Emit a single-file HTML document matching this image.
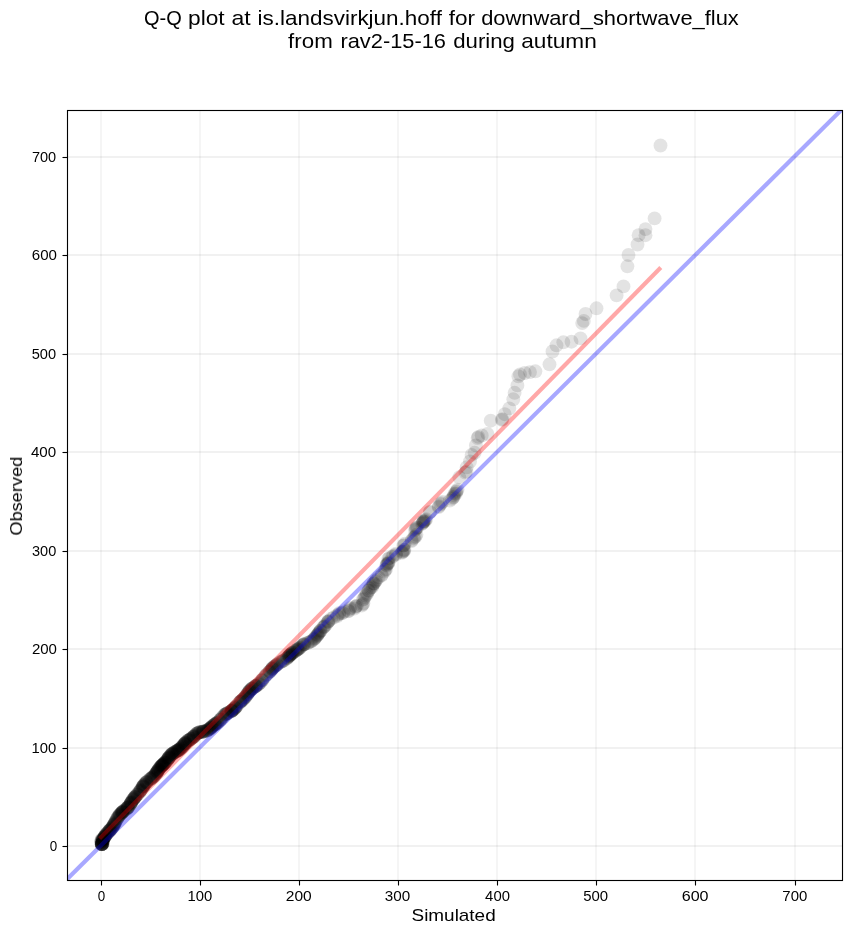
<!DOCTYPE html>
<html><head><meta charset="utf-8"><title>Q-Q plot</title>
<style>
html,body{margin:0;padding:0;background:#fff;}
body{width:851px;height:934px;overflow:hidden;}
svg{display:block;}
text{font-family:"Liberation Sans",sans-serif;fill:#000;}
</style></head><body>
<svg width="851" height="934" viewBox="0 0 851 934">
<rect width="851" height="934" fill="#fff"/>
<defs><clipPath id="ax"><rect x="67.5" y="110.5" width="775.0" height="770.0"/></clipPath></defs>

<g stroke="#000" stroke-width="2" shape-rendering="crispEdges">
<line x1="101" y1="110.5" x2="101" y2="880.5" stroke-opacity="0.04"/>
<line x1="67.5" y1="846" x2="842.5" y2="846" stroke-opacity="0.055"/>
<line x1="200" y1="110.5" x2="200" y2="880.5" stroke-opacity="0.04"/>
<line x1="67.5" y1="748" x2="842.5" y2="748" stroke-opacity="0.055"/>
<line x1="299" y1="110.5" x2="299" y2="880.5" stroke-opacity="0.04"/>
<line x1="67.5" y1="649" x2="842.5" y2="649" stroke-opacity="0.055"/>
<line x1="398" y1="110.5" x2="398" y2="880.5" stroke-opacity="0.04"/>
<line x1="67.5" y1="551" x2="842.5" y2="551" stroke-opacity="0.055"/>
<line x1="497" y1="110.5" x2="497" y2="880.5" stroke-opacity="0.04"/>
<line x1="67.5" y1="452" x2="842.5" y2="452" stroke-opacity="0.055"/>
<line x1="596" y1="110.5" x2="596" y2="880.5" stroke-opacity="0.04"/>
<line x1="67.5" y1="354" x2="842.5" y2="354" stroke-opacity="0.055"/>
<line x1="695" y1="110.5" x2="695" y2="880.5" stroke-opacity="0.04"/>
<line x1="67.5" y1="255" x2="842.5" y2="255" stroke-opacity="0.055"/>
<line x1="795" y1="110.5" x2="795" y2="880.5" stroke-opacity="0.04"/>
<line x1="67.5" y1="157" x2="842.5" y2="157" stroke-opacity="0.055"/>
</g>
<g clip-path="url(#ax)" fill="#000" fill-opacity="0.11">
<circle cx="660.5" cy="145.5" r="6.95"/>
<circle cx="654.6" cy="218.4" r="6.95"/>
<circle cx="645.5" cy="229.1" r="6.95"/>
<circle cx="645.5" cy="235.2" r="6.95"/>
<circle cx="638.6" cy="235.2" r="6.95"/>
<circle cx="637.5" cy="244.5" r="6.95"/>
<circle cx="628.5" cy="255.0" r="6.95"/>
<circle cx="627.4" cy="266.3" r="6.95"/>
<circle cx="623.5" cy="286.4" r="6.95"/>
<circle cx="616.6" cy="295.4" r="6.95"/>
<circle cx="596.5" cy="308.3" r="6.95"/>
<circle cx="585.5" cy="314.0" r="6.95"/>
<circle cx="583.8" cy="320.9" r="6.95"/>
<circle cx="582.2" cy="323.1" r="6.95"/>
<circle cx="580.5" cy="338.4" r="6.95"/>
<circle cx="571.5" cy="341.7" r="6.95"/>
<circle cx="563.3" cy="342.3" r="6.95"/>
<circle cx="556.5" cy="345.3" r="6.95"/>
<circle cx="552.5" cy="351.5" r="6.95"/>
<circle cx="549.5" cy="364.3" r="6.95"/>
<circle cx="535.4" cy="371.3" r="6.95"/>
<circle cx="530.0" cy="372.1" r="6.95"/>
<circle cx="524.7" cy="373.0" r="6.95"/>
<circle cx="520.0" cy="374.5" r="6.95"/>
<circle cx="518.4" cy="376.3" r="6.95"/>
<circle cx="517.4" cy="385.4" r="6.95"/>
<circle cx="514.6" cy="392.8" r="6.95"/>
<circle cx="513.3" cy="399.3" r="6.95"/>
<circle cx="509.3" cy="408.4" r="6.95"/>
<circle cx="504.7" cy="414.2" r="6.95"/>
<circle cx="502.3" cy="419.1" r="6.95"/>
<circle cx="501.9" cy="419.9" r="6.95"/>
<circle cx="490.7" cy="420.7" r="6.95"/>
<circle cx="487.4" cy="433.9" r="6.95"/>
<circle cx="481.7" cy="435.5" r="6.95"/>
<circle cx="478.4" cy="436.9" r="6.95"/>
<circle cx="477.6" cy="438.0" r="6.95"/>
<circle cx="475.9" cy="445.4" r="6.95"/>
<circle cx="474.6" cy="452.8" r="6.95"/>
<circle cx="471.6" cy="454.9" r="6.95"/>
<circle cx="470.0" cy="461.5" r="6.95"/>
<circle cx="466.7" cy="467.3" r="6.95"/>
<circle cx="465.3" cy="472.6" r="6.95"/>
<circle cx="466.4" cy="471.6" r="6.95"/>
<circle cx="459.3" cy="477.3" r="6.95"/>
<circle cx="456.1" cy="492.0" r="6.95"/>
<circle cx="456.8" cy="490.9" r="6.95"/>
<circle cx="457.6" cy="489.6" r="6.95"/>
<circle cx="454.1" cy="495.3" r="6.95"/>
<circle cx="454.6" cy="493.7" r="6.95"/>
<circle cx="455.9" cy="493.5" r="6.95"/>
<circle cx="451.9" cy="498.9" r="6.95"/>
<circle cx="453.1" cy="497.5" r="6.95"/>
<circle cx="453.7" cy="496.8" r="6.95"/>
<circle cx="449.8" cy="500.6" r="6.95"/>
<circle cx="440.5" cy="504.3" r="6.95"/>
<circle cx="441.2" cy="503.1" r="6.95"/>
<circle cx="442.4" cy="501.9" r="6.95"/>
<circle cx="438.7" cy="507.1" r="6.95"/>
<circle cx="438.9" cy="506.2" r="6.95"/>
<circle cx="429.8" cy="512.4" r="6.95"/>
<circle cx="430.2" cy="511.6" r="6.95"/>
<circle cx="423.8" cy="521.6" r="6.95"/>
<circle cx="424.9" cy="521.0" r="6.95"/>
<circle cx="425.1" cy="519.9" r="6.95"/>
<circle cx="426.2" cy="519.2" r="6.95"/>
<circle cx="422.0" cy="523.8" r="6.95"/>
<circle cx="422.9" cy="522.9" r="6.95"/>
<circle cx="422.9" cy="522.8" r="6.95"/>
<circle cx="423.3" cy="521.7" r="6.95"/>
<circle cx="423.7" cy="521.2" r="6.95"/>
<circle cx="415.0" cy="530.1" r="6.95"/>
<circle cx="415.7" cy="529.1" r="6.95"/>
<circle cx="416.1" cy="528.6" r="6.95"/>
<circle cx="416.6" cy="527.7" r="6.95"/>
<circle cx="417.4" cy="527.4" r="6.95"/>
<circle cx="413.8" cy="538.2" r="6.95"/>
<circle cx="414.2" cy="537.2" r="6.95"/>
<circle cx="415.5" cy="536.5" r="6.95"/>
<circle cx="416.5" cy="534.8" r="6.95"/>
<circle cx="411.5" cy="541.2" r="6.95"/>
<circle cx="411.9" cy="540.0" r="6.95"/>
<circle cx="403.3" cy="545.6" r="6.95"/>
<circle cx="404.0" cy="545.3" r="6.95"/>
<circle cx="404.8" cy="543.8" r="6.95"/>
<circle cx="402.0" cy="552.9" r="6.95"/>
<circle cx="402.2" cy="551.8" r="6.95"/>
<circle cx="403.1" cy="551.7" r="6.95"/>
<circle cx="403.9" cy="551.1" r="6.95"/>
<circle cx="403.8" cy="550.0" r="6.95"/>
<circle cx="404.4" cy="549.9" r="6.95"/>
<circle cx="396.0" cy="554.6" r="6.95"/>
<circle cx="396.0" cy="553.7" r="6.95"/>
<circle cx="392.1" cy="557.0" r="6.95"/>
<circle cx="393.3" cy="555.8" r="6.95"/>
<circle cx="388.3" cy="558.9" r="6.95"/>
<circle cx="389.5" cy="558.1" r="6.95"/>
<circle cx="386.6" cy="565.5" r="6.95"/>
<circle cx="386.6" cy="564.8" r="6.95"/>
<circle cx="387.2" cy="563.7" r="6.95"/>
<circle cx="387.9" cy="563.8" r="6.95"/>
<circle cx="388.4" cy="563.2" r="6.95"/>
<circle cx="388.4" cy="562.2" r="6.95"/>
<circle cx="384.4" cy="571.6" r="6.95"/>
<circle cx="385.2" cy="570.1" r="6.95"/>
<circle cx="386.1" cy="569.2" r="6.95"/>
<circle cx="381.5" cy="575.5" r="6.95"/>
<circle cx="381.9" cy="574.7" r="6.95"/>
<circle cx="378.6" cy="577.4" r="6.95"/>
<circle cx="373.8" cy="583.4" r="6.95"/>
<circle cx="375.2" cy="581.6" r="6.95"/>
<circle cx="375.7" cy="580.8" r="6.95"/>
<circle cx="376.6" cy="579.6" r="6.95"/>
<circle cx="372.1" cy="587.0" r="6.95"/>
<circle cx="372.6" cy="585.5" r="6.95"/>
<circle cx="373.0" cy="584.1" r="6.95"/>
<circle cx="374.0" cy="583.3" r="6.95"/>
<circle cx="368.6" cy="590.7" r="6.95"/>
<circle cx="368.6" cy="590.5" r="6.95"/>
<circle cx="369.9" cy="588.6" r="6.95"/>
<circle cx="370.7" cy="587.5" r="6.95"/>
<circle cx="365.7" cy="595.5" r="6.95"/>
<circle cx="366.9" cy="594.2" r="6.95"/>
<circle cx="367.0" cy="592.9" r="6.95"/>
<circle cx="362.9" cy="599.7" r="6.95"/>
<circle cx="364.0" cy="598.8" r="6.95"/>
<circle cx="364.6" cy="597.2" r="6.95"/>
<circle cx="361.8" cy="605.5" r="6.95"/>
<circle cx="362.7" cy="604.3" r="6.95"/>
<circle cx="363.4" cy="603.3" r="6.95"/>
<circle cx="354.5" cy="608.5" r="6.95"/>
<circle cx="355.5" cy="607.0" r="6.95"/>
<circle cx="355.9" cy="606.3" r="6.95"/>
<circle cx="357.0" cy="605.7" r="6.95"/>
<circle cx="348.3" cy="611.2" r="6.95"/>
<circle cx="349.0" cy="610.8" r="6.95"/>
<circle cx="349.9" cy="609.2" r="6.95"/>
<circle cx="349.9" cy="608.0" r="6.95"/>
<circle cx="341.9" cy="613.2" r="6.95"/>
<circle cx="343.1" cy="612.9" r="6.95"/>
<circle cx="344.1" cy="611.5" r="6.95"/>
<circle cx="337.0" cy="616.3" r="6.95"/>
<circle cx="337.2" cy="615.2" r="6.95"/>
<circle cx="338.8" cy="614.3" r="6.95"/>
<circle cx="339.5" cy="613.0" r="6.95"/>
<circle cx="333.6" cy="617.5" r="6.95"/>
<circle cx="331.1" cy="618.8" r="6.95"/>
<circle cx="329.0" cy="620.6" r="6.95"/>
<circle cx="328.3" cy="621.4" r="6.95"/>
<circle cx="328.0" cy="621.8" r="6.95"/>
<circle cx="327.8" cy="622.1" r="6.95"/>
<circle cx="326.0" cy="624.5" r="6.95"/>
<circle cx="324.9" cy="625.9" r="6.95"/>
<circle cx="324.0" cy="626.8" r="6.95"/>
<circle cx="323.9" cy="626.8" r="6.95"/>
<circle cx="322.9" cy="627.7" r="6.95"/>
<circle cx="320.8" cy="630.4" r="6.95"/>
<circle cx="320.5" cy="630.8" r="6.95"/>
<circle cx="320.1" cy="631.3" r="6.95"/>
<circle cx="319.3" cy="632.3" r="6.95"/>
<circle cx="318.8" cy="633.0" r="6.95"/>
<circle cx="318.2" cy="633.8" r="6.95"/>
<circle cx="317.6" cy="634.8" r="6.95"/>
<circle cx="317.5" cy="634.9" r="6.95"/>
<circle cx="316.9" cy="635.8" r="6.95"/>
<circle cx="316.1" cy="636.6" r="6.95"/>
<circle cx="315.4" cy="637.5" r="6.95"/>
<circle cx="314.7" cy="638.4" r="6.95"/>
<circle cx="314.2" cy="638.9" r="6.95"/>
<circle cx="313.5" cy="639.7" r="6.95"/>
<circle cx="311.9" cy="640.9" r="6.95"/>
<circle cx="311.0" cy="641.4" r="6.95"/>
<circle cx="310.1" cy="641.9" r="6.95"/>
<circle cx="308.5" cy="642.5" r="6.95"/>
<circle cx="307.4" cy="643.0" r="6.95"/>
<circle cx="304.7" cy="644.0" r="6.95"/>
<circle cx="304.1" cy="644.3" r="6.95"/>
<circle cx="303.9" cy="644.4" r="6.95"/>
<circle cx="303.1" cy="644.8" r="6.95"/>
<circle cx="302.7" cy="645.1" r="6.95"/>
<circle cx="301.5" cy="646.1" r="6.95"/>
<circle cx="300.2" cy="647.4" r="6.95"/>
<circle cx="299.9" cy="647.7" r="6.95"/>
<circle cx="299.2" cy="648.3" r="6.95"/>
<circle cx="298.5" cy="648.8" r="6.95"/>
<circle cx="297.9" cy="649.2" r="6.95"/>
<circle cx="297.4" cy="649.5" r="6.95"/>
<circle cx="297.4" cy="649.5" r="6.95"/>
<circle cx="296.7" cy="650.1" r="6.95"/>
<circle cx="296.1" cy="650.5" r="6.95"/>
<circle cx="295.2" cy="651.1" r="6.95"/>
<circle cx="294.8" cy="651.4" r="6.95"/>
<circle cx="293.1" cy="652.5" r="6.95"/>
<circle cx="292.8" cy="652.7" r="6.95"/>
<circle cx="292.4" cy="653.0" r="6.95"/>
<circle cx="292.3" cy="653.0" r="6.95"/>
<circle cx="291.6" cy="653.6" r="6.95"/>
<circle cx="291.1" cy="654.0" r="6.95"/>
<circle cx="290.8" cy="654.2" r="6.95"/>
<circle cx="290.5" cy="654.6" r="6.95"/>
<circle cx="290.2" cy="654.8" r="6.95"/>
<circle cx="289.7" cy="655.3" r="6.95"/>
<circle cx="289.4" cy="655.6" r="6.95"/>
<circle cx="289.1" cy="655.9" r="6.95"/>
<circle cx="289.1" cy="656.0" r="6.95"/>
<circle cx="289.0" cy="656.1" r="6.95"/>
<circle cx="288.3" cy="656.8" r="6.95"/>
<circle cx="287.6" cy="657.6" r="6.95"/>
<circle cx="287.4" cy="657.7" r="6.95"/>
<circle cx="286.9" cy="658.3" r="6.95"/>
<circle cx="286.1" cy="658.9" r="6.95"/>
<circle cx="284.2" cy="660.3" r="6.95"/>
<circle cx="283.0" cy="660.9" r="6.95"/>
<circle cx="282.4" cy="661.2" r="6.95"/>
<circle cx="282.2" cy="661.3" r="6.95"/>
<circle cx="280.6" cy="662.1" r="6.95"/>
<circle cx="280.2" cy="662.3" r="6.95"/>
<circle cx="278.1" cy="663.6" r="6.95"/>
<circle cx="277.1" cy="664.4" r="6.95"/>
<circle cx="276.7" cy="664.8" r="6.95"/>
<circle cx="276.4" cy="665.1" r="6.95"/>
<circle cx="275.7" cy="665.6" r="6.95"/>
<circle cx="274.9" cy="666.2" r="6.95"/>
<circle cx="274.4" cy="666.6" r="6.95"/>
<circle cx="273.7" cy="667.2" r="6.95"/>
<circle cx="272.8" cy="667.8" r="6.95"/>
<circle cx="272.5" cy="668.2" r="6.95"/>
<circle cx="272.1" cy="668.8" r="6.95"/>
<circle cx="272.1" cy="668.8" r="6.95"/>
<circle cx="271.8" cy="669.2" r="6.95"/>
<circle cx="271.2" cy="670.0" r="6.95"/>
<circle cx="270.3" cy="671.0" r="6.95"/>
<circle cx="269.9" cy="671.4" r="6.95"/>
<circle cx="269.7" cy="671.6" r="6.95"/>
<circle cx="268.8" cy="672.5" r="6.95"/>
<circle cx="267.1" cy="674.1" r="6.95"/>
<circle cx="266.3" cy="674.9" r="6.95"/>
<circle cx="265.6" cy="675.6" r="6.95"/>
<circle cx="264.3" cy="677.3" r="6.95"/>
<circle cx="262.9" cy="679.1" r="6.95"/>
<circle cx="262.1" cy="680.2" r="6.95"/>
<circle cx="262.1" cy="680.3" r="6.95"/>
<circle cx="261.7" cy="680.8" r="6.95"/>
<circle cx="260.3" cy="682.5" r="6.95"/>
<circle cx="259.5" cy="683.3" r="6.95"/>
<circle cx="258.5" cy="684.2" r="6.95"/>
<circle cx="258.5" cy="684.2" r="6.95"/>
<circle cx="257.1" cy="685.2" r="6.95"/>
<circle cx="256.4" cy="685.7" r="6.95"/>
<circle cx="256.2" cy="685.8" r="6.95"/>
<circle cx="255.8" cy="686.0" r="6.95"/>
<circle cx="255.4" cy="686.3" r="6.95"/>
<circle cx="255.1" cy="686.5" r="6.95"/>
<circle cx="254.5" cy="686.9" r="6.95"/>
<circle cx="253.4" cy="687.6" r="6.95"/>
<circle cx="252.5" cy="688.2" r="6.95"/>
<circle cx="252.3" cy="688.4" r="6.95"/>
<circle cx="251.9" cy="688.7" r="6.95"/>
<circle cx="251.5" cy="689.0" r="6.95"/>
<circle cx="251.3" cy="689.2" r="6.95"/>
<circle cx="250.3" cy="690.2" r="6.95"/>
<circle cx="249.9" cy="690.5" r="6.95"/>
<circle cx="249.4" cy="691.1" r="6.95"/>
<circle cx="249.3" cy="691.3" r="6.95"/>
<circle cx="249.1" cy="691.6" r="6.95"/>
<circle cx="248.6" cy="692.2" r="6.95"/>
<circle cx="248.4" cy="692.6" r="6.95"/>
<circle cx="247.8" cy="693.4" r="6.95"/>
<circle cx="247.3" cy="694.2" r="6.95"/>
<circle cx="247.2" cy="694.4" r="6.95"/>
<circle cx="246.7" cy="695.1" r="6.95"/>
<circle cx="246.0" cy="696.1" r="6.95"/>
<circle cx="245.4" cy="696.8" r="6.95"/>
<circle cx="245.1" cy="697.2" r="6.95"/>
<circle cx="244.8" cy="697.6" r="6.95"/>
<circle cx="243.7" cy="698.7" r="6.95"/>
<circle cx="243.6" cy="698.9" r="6.95"/>
<circle cx="242.5" cy="699.8" r="6.95"/>
<circle cx="242.3" cy="700.0" r="6.95"/>
<circle cx="241.8" cy="700.5" r="6.95"/>
<circle cx="241.0" cy="701.1" r="6.95"/>
<circle cx="240.6" cy="701.6" r="6.95"/>
<circle cx="240.5" cy="701.6" r="6.95"/>
<circle cx="240.1" cy="702.0" r="6.95"/>
<circle cx="240.0" cy="702.2" r="6.95"/>
<circle cx="238.7" cy="703.5" r="6.95"/>
<circle cx="236.7" cy="705.9" r="6.95"/>
<circle cx="236.2" cy="706.5" r="6.95"/>
<circle cx="236.1" cy="706.6" r="6.95"/>
<circle cx="235.7" cy="707.1" r="6.95"/>
<circle cx="235.0" cy="707.9" r="6.95"/>
<circle cx="235.0" cy="708.0" r="6.95"/>
<circle cx="234.8" cy="708.2" r="6.95"/>
<circle cx="234.4" cy="708.7" r="6.95"/>
<circle cx="233.4" cy="709.5" r="6.95"/>
<circle cx="233.1" cy="709.8" r="6.95"/>
<circle cx="232.8" cy="710.1" r="6.95"/>
<circle cx="232.3" cy="710.4" r="6.95"/>
<circle cx="232.0" cy="710.6" r="6.95"/>
<circle cx="231.7" cy="710.8" r="6.95"/>
<circle cx="231.5" cy="710.9" r="6.95"/>
<circle cx="231.4" cy="711.0" r="6.95"/>
<circle cx="231.2" cy="711.1" r="6.95"/>
<circle cx="230.9" cy="711.3" r="6.95"/>
<circle cx="228.7" cy="712.5" r="6.95"/>
<circle cx="228.1" cy="712.8" r="6.95"/>
<circle cx="227.4" cy="713.1" r="6.95"/>
<circle cx="226.9" cy="713.4" r="6.95"/>
<circle cx="226.6" cy="713.6" r="6.95"/>
<circle cx="226.4" cy="713.7" r="6.95"/>
<circle cx="225.5" cy="714.2" r="6.95"/>
<circle cx="225.3" cy="714.4" r="6.95"/>
<circle cx="225.0" cy="714.6" r="6.95"/>
<circle cx="224.5" cy="715.0" r="6.95"/>
<circle cx="223.2" cy="716.3" r="6.95"/>
<circle cx="222.4" cy="717.3" r="6.95"/>
<circle cx="222.0" cy="717.8" r="6.95"/>
<circle cx="220.8" cy="719.2" r="6.95"/>
<circle cx="220.6" cy="719.5" r="6.95"/>
<circle cx="220.4" cy="719.7" r="6.95"/>
<circle cx="219.7" cy="720.5" r="6.95"/>
<circle cx="218.8" cy="721.4" r="6.95"/>
<circle cx="217.9" cy="722.2" r="6.95"/>
<circle cx="217.3" cy="722.7" r="6.95"/>
<circle cx="217.0" cy="722.9" r="6.95"/>
<circle cx="216.7" cy="723.1" r="6.95"/>
<circle cx="215.8" cy="723.8" r="6.95"/>
<circle cx="215.7" cy="723.8" r="6.95"/>
<circle cx="215.0" cy="724.3" r="6.95"/>
<circle cx="214.7" cy="724.5" r="6.95"/>
<circle cx="214.7" cy="724.5" r="6.95"/>
<circle cx="214.2" cy="724.8" r="6.95"/>
<circle cx="213.5" cy="725.4" r="6.95"/>
<circle cx="213.0" cy="725.8" r="6.95"/>
<circle cx="212.8" cy="725.9" r="6.95"/>
<circle cx="212.0" cy="726.7" r="6.95"/>
<circle cx="212.0" cy="726.7" r="6.95"/>
<circle cx="211.3" cy="727.4" r="6.95"/>
<circle cx="211.0" cy="727.7" r="6.95"/>
<circle cx="211.0" cy="727.7" r="6.95"/>
<circle cx="210.6" cy="728.0" r="6.95"/>
<circle cx="210.3" cy="728.2" r="6.95"/>
<circle cx="209.4" cy="728.9" r="6.95"/>
<circle cx="209.2" cy="729.1" r="6.95"/>
<circle cx="208.9" cy="729.3" r="6.95"/>
<circle cx="208.7" cy="729.5" r="6.95"/>
<circle cx="207.6" cy="730.2" r="6.95"/>
<circle cx="207.4" cy="730.3" r="6.95"/>
<circle cx="207.0" cy="730.5" r="6.95"/>
<circle cx="206.5" cy="730.8" r="6.95"/>
<circle cx="206.1" cy="730.9" r="6.95"/>
<circle cx="204.2" cy="731.4" r="6.95"/>
<circle cx="203.7" cy="731.5" r="6.95"/>
<circle cx="203.7" cy="731.5" r="6.95"/>
<circle cx="203.2" cy="731.6" r="6.95"/>
<circle cx="202.8" cy="731.7" r="6.95"/>
<circle cx="202.4" cy="731.7" r="6.95"/>
<circle cx="202.1" cy="731.8" r="6.95"/>
<circle cx="201.8" cy="731.8" r="6.95"/>
<circle cx="200.3" cy="732.1" r="6.95"/>
<circle cx="199.8" cy="732.2" r="6.95"/>
<circle cx="199.3" cy="732.3" r="6.95"/>
<circle cx="198.8" cy="732.5" r="6.95"/>
<circle cx="198.8" cy="732.5" r="6.95"/>
<circle cx="197.6" cy="733.1" r="6.95"/>
<circle cx="197.5" cy="733.1" r="6.95"/>
<circle cx="197.0" cy="733.4" r="6.95"/>
<circle cx="196.7" cy="733.6" r="6.95"/>
<circle cx="196.2" cy="734.1" r="6.95"/>
<circle cx="195.5" cy="734.9" r="6.95"/>
<circle cx="194.7" cy="735.7" r="6.95"/>
<circle cx="194.1" cy="736.2" r="6.95"/>
<circle cx="194.1" cy="736.2" r="6.95"/>
<circle cx="193.7" cy="736.7" r="6.95"/>
<circle cx="193.5" cy="736.8" r="6.95"/>
<circle cx="193.0" cy="737.3" r="6.95"/>
<circle cx="192.8" cy="737.4" r="6.95"/>
<circle cx="192.0" cy="738.1" r="6.95"/>
<circle cx="191.1" cy="738.7" r="6.95"/>
<circle cx="190.8" cy="738.9" r="6.95"/>
<circle cx="190.5" cy="739.1" r="6.95"/>
<circle cx="190.4" cy="739.2" r="6.95"/>
<circle cx="189.4" cy="739.8" r="6.95"/>
<circle cx="188.9" cy="740.1" r="6.95"/>
<circle cx="188.8" cy="740.2" r="6.95"/>
<circle cx="188.2" cy="740.5" r="6.95"/>
<circle cx="187.9" cy="740.7" r="6.95"/>
<circle cx="187.5" cy="741.0" r="6.95"/>
<circle cx="186.9" cy="741.6" r="6.95"/>
<circle cx="185.8" cy="742.6" r="6.95"/>
<circle cx="185.7" cy="742.7" r="6.95"/>
<circle cx="185.4" cy="743.0" r="6.95"/>
<circle cx="185.2" cy="743.3" r="6.95"/>
<circle cx="185.0" cy="743.5" r="6.95"/>
<circle cx="184.8" cy="743.7" r="6.95"/>
<circle cx="184.6" cy="743.9" r="6.95"/>
<circle cx="184.3" cy="744.2" r="6.95"/>
<circle cx="183.8" cy="744.8" r="6.95"/>
<circle cx="183.8" cy="744.9" r="6.95"/>
<circle cx="182.9" cy="746.0" r="6.95"/>
<circle cx="182.7" cy="746.2" r="6.95"/>
<circle cx="182.5" cy="746.4" r="6.95"/>
<circle cx="182.0" cy="747.0" r="6.95"/>
<circle cx="181.8" cy="747.3" r="6.95"/>
<circle cx="181.4" cy="747.6" r="6.95"/>
<circle cx="180.7" cy="748.3" r="6.95"/>
<circle cx="180.6" cy="748.4" r="6.95"/>
<circle cx="180.0" cy="748.9" r="6.95"/>
<circle cx="179.6" cy="749.2" r="6.95"/>
<circle cx="179.4" cy="749.4" r="6.95"/>
<circle cx="178.9" cy="749.8" r="6.95"/>
<circle cx="178.6" cy="750.0" r="6.95"/>
<circle cx="178.4" cy="750.1" r="6.95"/>
<circle cx="178.2" cy="750.3" r="6.95"/>
<circle cx="177.6" cy="750.6" r="6.95"/>
<circle cx="177.5" cy="750.7" r="6.95"/>
<circle cx="177.0" cy="751.0" r="6.95"/>
<circle cx="176.8" cy="751.0" r="6.95"/>
<circle cx="175.9" cy="751.5" r="6.95"/>
<circle cx="175.7" cy="751.7" r="6.95"/>
<circle cx="175.1" cy="752.0" r="6.95"/>
<circle cx="174.7" cy="752.2" r="6.95"/>
<circle cx="174.5" cy="752.4" r="6.95"/>
<circle cx="173.9" cy="752.7" r="6.95"/>
<circle cx="173.3" cy="753.1" r="6.95"/>
<circle cx="172.9" cy="753.4" r="6.95"/>
<circle cx="172.5" cy="753.6" r="6.95"/>
<circle cx="172.2" cy="754.0" r="6.95"/>
<circle cx="172.0" cy="754.1" r="6.95"/>
<circle cx="171.9" cy="754.2" r="6.95"/>
<circle cx="171.6" cy="754.4" r="6.95"/>
<circle cx="171.0" cy="755.0" r="6.95"/>
<circle cx="170.9" cy="755.1" r="6.95"/>
<circle cx="170.7" cy="755.3" r="6.95"/>
<circle cx="169.7" cy="756.5" r="6.95"/>
<circle cx="169.6" cy="756.6" r="6.95"/>
<circle cx="169.3" cy="757.0" r="6.95"/>
<circle cx="169.1" cy="757.3" r="6.95"/>
<circle cx="168.9" cy="757.6" r="6.95"/>
<circle cx="168.5" cy="758.1" r="6.95"/>
<circle cx="168.4" cy="758.2" r="6.95"/>
<circle cx="168.4" cy="758.3" r="6.95"/>
<circle cx="168.0" cy="758.8" r="6.95"/>
<circle cx="167.8" cy="759.2" r="6.95"/>
<circle cx="167.4" cy="759.7" r="6.95"/>
<circle cx="166.9" cy="760.4" r="6.95"/>
<circle cx="166.7" cy="760.7" r="6.95"/>
<circle cx="166.2" cy="761.3" r="6.95"/>
<circle cx="165.9" cy="761.6" r="6.95"/>
<circle cx="165.2" cy="762.4" r="6.95"/>
<circle cx="165.0" cy="762.6" r="6.95"/>
<circle cx="164.9" cy="762.7" r="6.95"/>
<circle cx="164.6" cy="763.0" r="6.95"/>
<circle cx="164.2" cy="763.4" r="6.95"/>
<circle cx="164.2" cy="763.4" r="6.95"/>
<circle cx="164.1" cy="763.5" r="6.95"/>
<circle cx="163.3" cy="764.3" r="6.95"/>
<circle cx="163.2" cy="764.3" r="6.95"/>
<circle cx="162.9" cy="764.7" r="6.95"/>
<circle cx="162.8" cy="764.8" r="6.95"/>
<circle cx="162.6" cy="764.9" r="6.95"/>
<circle cx="162.3" cy="765.2" r="6.95"/>
<circle cx="162.2" cy="765.4" r="6.95"/>
<circle cx="162.0" cy="765.6" r="6.95"/>
<circle cx="161.8" cy="765.7" r="6.95"/>
<circle cx="161.6" cy="765.9" r="6.95"/>
<circle cx="161.3" cy="766.2" r="6.95"/>
<circle cx="161.2" cy="766.3" r="6.95"/>
<circle cx="160.7" cy="766.8" r="6.95"/>
<circle cx="160.5" cy="767.1" r="6.95"/>
<circle cx="160.1" cy="767.5" r="6.95"/>
<circle cx="159.8" cy="767.8" r="6.95"/>
<circle cx="159.6" cy="768.1" r="6.95"/>
<circle cx="159.2" cy="768.6" r="6.95"/>
<circle cx="158.6" cy="769.6" r="6.95"/>
<circle cx="158.4" cy="769.8" r="6.95"/>
<circle cx="158.4" cy="769.9" r="6.95"/>
<circle cx="158.2" cy="770.1" r="6.95"/>
<circle cx="157.7" cy="770.8" r="6.95"/>
<circle cx="157.7" cy="771.0" r="6.95"/>
<circle cx="157.4" cy="771.4" r="6.95"/>
<circle cx="157.3" cy="771.6" r="6.95"/>
<circle cx="157.1" cy="771.9" r="6.95"/>
<circle cx="156.8" cy="772.4" r="6.95"/>
<circle cx="156.5" cy="772.9" r="6.95"/>
<circle cx="156.3" cy="773.1" r="6.95"/>
<circle cx="156.0" cy="773.5" r="6.95"/>
<circle cx="155.9" cy="773.7" r="6.95"/>
<circle cx="155.5" cy="774.4" r="6.95"/>
<circle cx="154.8" cy="775.2" r="6.95"/>
<circle cx="154.3" cy="775.8" r="6.95"/>
<circle cx="153.9" cy="776.2" r="6.95"/>
<circle cx="153.6" cy="776.4" r="6.95"/>
<circle cx="152.9" cy="777.1" r="6.95"/>
<circle cx="152.4" cy="777.5" r="6.95"/>
<circle cx="152.2" cy="777.7" r="6.95"/>
<circle cx="151.7" cy="778.0" r="6.95"/>
<circle cx="151.5" cy="778.2" r="6.95"/>
<circle cx="150.9" cy="778.6" r="6.95"/>
<circle cx="150.3" cy="779.1" r="6.95"/>
<circle cx="150.1" cy="779.2" r="6.95"/>
<circle cx="149.9" cy="779.4" r="6.95"/>
<circle cx="148.3" cy="780.6" r="6.95"/>
<circle cx="147.1" cy="781.6" r="6.95"/>
<circle cx="146.8" cy="781.9" r="6.95"/>
<circle cx="146.4" cy="782.3" r="6.95"/>
<circle cx="146.3" cy="782.4" r="6.95"/>
<circle cx="146.2" cy="782.4" r="6.95"/>
<circle cx="145.5" cy="783.2" r="6.95"/>
<circle cx="144.5" cy="784.3" r="6.95"/>
<circle cx="144.4" cy="784.5" r="6.95"/>
<circle cx="144.1" cy="784.9" r="6.95"/>
<circle cx="143.7" cy="785.4" r="6.95"/>
<circle cx="143.3" cy="786.1" r="6.95"/>
<circle cx="143.1" cy="786.3" r="6.95"/>
<circle cx="143.1" cy="786.4" r="6.95"/>
<circle cx="142.9" cy="786.6" r="6.95"/>
<circle cx="142.7" cy="786.9" r="6.95"/>
<circle cx="142.5" cy="787.2" r="6.95"/>
<circle cx="142.1" cy="788.0" r="6.95"/>
<circle cx="141.3" cy="789.2" r="6.95"/>
<circle cx="140.8" cy="790.0" r="6.95"/>
<circle cx="140.6" cy="790.3" r="6.95"/>
<circle cx="140.1" cy="791.0" r="6.95"/>
<circle cx="140.1" cy="791.0" r="6.95"/>
<circle cx="139.7" cy="791.6" r="6.95"/>
<circle cx="139.3" cy="792.2" r="6.95"/>
<circle cx="138.5" cy="793.2" r="6.95"/>
<circle cx="137.4" cy="794.4" r="6.95"/>
<circle cx="137.2" cy="794.6" r="6.95"/>
<circle cx="137.1" cy="794.7" r="6.95"/>
<circle cx="136.3" cy="795.6" r="6.95"/>
<circle cx="135.4" cy="796.6" r="6.95"/>
<circle cx="135.1" cy="796.9" r="6.95"/>
<circle cx="135.0" cy="797.0" r="6.95"/>
<circle cx="134.9" cy="797.2" r="6.95"/>
<circle cx="134.6" cy="797.6" r="6.95"/>
<circle cx="134.4" cy="797.8" r="6.95"/>
<circle cx="133.8" cy="798.6" r="6.95"/>
<circle cx="133.5" cy="798.9" r="6.95"/>
<circle cx="133.3" cy="799.3" r="6.95"/>
<circle cx="132.8" cy="799.9" r="6.95"/>
<circle cx="132.6" cy="800.2" r="6.95"/>
<circle cx="132.0" cy="801.2" r="6.95"/>
<circle cx="131.5" cy="802.1" r="6.95"/>
<circle cx="131.3" cy="802.3" r="6.95"/>
<circle cx="131.3" cy="802.4" r="6.95"/>
<circle cx="131.1" cy="802.6" r="6.95"/>
<circle cx="130.9" cy="803.0" r="6.95"/>
<circle cx="130.6" cy="803.6" r="6.95"/>
<circle cx="130.4" cy="803.8" r="6.95"/>
<circle cx="130.2" cy="804.3" r="6.95"/>
<circle cx="129.8" cy="804.9" r="6.95"/>
<circle cx="129.1" cy="805.9" r="6.95"/>
<circle cx="128.5" cy="806.8" r="6.95"/>
<circle cx="128.2" cy="807.1" r="6.95"/>
<circle cx="127.9" cy="807.5" r="6.95"/>
<circle cx="127.8" cy="807.5" r="6.95"/>
<circle cx="127.8" cy="807.5" r="6.95"/>
<circle cx="127.6" cy="807.8" r="6.95"/>
<circle cx="127.2" cy="808.2" r="6.95"/>
<circle cx="126.9" cy="808.5" r="6.95"/>
<circle cx="126.1" cy="809.2" r="6.95"/>
<circle cx="125.5" cy="809.7" r="6.95"/>
<circle cx="125.2" cy="809.9" r="6.95"/>
<circle cx="124.0" cy="810.7" r="6.95"/>
<circle cx="123.6" cy="811.0" r="6.95"/>
<circle cx="123.1" cy="811.4" r="6.95"/>
<circle cx="122.8" cy="811.7" r="6.95"/>
<circle cx="122.6" cy="811.9" r="6.95"/>
<circle cx="122.4" cy="812.1" r="6.95"/>
<circle cx="122.2" cy="812.3" r="6.95"/>
<circle cx="121.9" cy="812.5" r="6.95"/>
<circle cx="121.9" cy="812.6" r="6.95"/>
<circle cx="121.7" cy="812.8" r="6.95"/>
<circle cx="121.4" cy="813.1" r="6.95"/>
<circle cx="120.6" cy="813.9" r="6.95"/>
<circle cx="120.3" cy="814.3" r="6.95"/>
<circle cx="119.8" cy="814.7" r="6.95"/>
<circle cx="119.7" cy="814.9" r="6.95"/>
<circle cx="119.6" cy="815.0" r="6.95"/>
<circle cx="119.0" cy="815.8" r="6.95"/>
<circle cx="118.7" cy="816.2" r="6.95"/>
<circle cx="118.4" cy="816.6" r="6.95"/>
<circle cx="118.0" cy="817.2" r="6.95"/>
<circle cx="117.5" cy="818.0" r="6.95"/>
<circle cx="117.3" cy="818.3" r="6.95"/>
<circle cx="116.9" cy="819.1" r="6.95"/>
<circle cx="116.8" cy="819.3" r="6.95"/>
<circle cx="116.0" cy="820.8" r="6.95"/>
<circle cx="115.6" cy="821.5" r="6.95"/>
<circle cx="115.2" cy="822.2" r="6.95"/>
<circle cx="115.1" cy="822.6" r="6.95"/>
<circle cx="114.8" cy="823.1" r="6.95"/>
<circle cx="114.5" cy="823.6" r="6.95"/>
<circle cx="114.2" cy="824.3" r="6.95"/>
<circle cx="114.1" cy="824.5" r="6.95"/>
<circle cx="113.8" cy="824.9" r="6.95"/>
<circle cx="113.6" cy="825.3" r="6.95"/>
<circle cx="113.3" cy="825.8" r="6.95"/>
<circle cx="113.1" cy="826.1" r="6.95"/>
<circle cx="112.8" cy="826.6" r="6.95"/>
<circle cx="112.3" cy="827.4" r="6.95"/>
<circle cx="112.0" cy="827.8" r="6.95"/>
<circle cx="111.7" cy="828.2" r="6.95"/>
<circle cx="111.2" cy="828.8" r="6.95"/>
<circle cx="110.8" cy="829.3" r="6.95"/>
<circle cx="110.5" cy="829.5" r="6.95"/>
<circle cx="110.0" cy="830.1" r="6.95"/>
<circle cx="110.0" cy="830.1" r="6.95"/>
<circle cx="109.7" cy="830.4" r="6.95"/>
<circle cx="109.5" cy="830.7" r="6.95"/>
<circle cx="109.0" cy="831.1" r="6.95"/>
<circle cx="108.9" cy="831.3" r="6.95"/>
<circle cx="108.4" cy="831.9" r="6.95"/>
<circle cx="108.0" cy="832.3" r="6.95"/>
<circle cx="107.4" cy="832.9" r="6.95"/>
<circle cx="107.3" cy="833.1" r="6.95"/>
<circle cx="106.8" cy="833.7" r="6.95"/>
<circle cx="106.4" cy="834.2" r="6.95"/>
<circle cx="106.2" cy="834.5" r="6.95"/>
<circle cx="105.8" cy="835.0" r="6.95"/>
<circle cx="105.3" cy="835.7" r="6.95"/>
<circle cx="105.1" cy="836.0" r="6.95"/>
<circle cx="105.1" cy="836.1" r="6.95"/>
<circle cx="104.9" cy="836.4" r="6.95"/>
<circle cx="104.8" cy="836.5" r="6.95"/>
<circle cx="104.7" cy="836.7" r="6.95"/>
<circle cx="104.2" cy="837.4" r="6.95"/>
<circle cx="104.2" cy="837.5" r="6.95"/>
<circle cx="104.0" cy="837.8" r="6.95"/>
<circle cx="103.7" cy="838.3" r="6.95"/>
<circle cx="103.5" cy="838.6" r="6.95"/>
<circle cx="103.0" cy="839.3" r="6.95"/>
<circle cx="102.8" cy="839.4" r="6.95"/>
<circle cx="102.8" cy="839.7" r="6.95"/>
<circle cx="102.8" cy="839.8" r="6.95"/>
<circle cx="102.8" cy="840.6" r="6.95"/>
<circle cx="102.8" cy="840.7" r="6.95"/>
<circle cx="102.8" cy="841.5" r="6.95"/>
<circle cx="102.9" cy="842.6" r="6.95"/>
<circle cx="103.0" cy="843.2" r="6.95"/>
<circle cx="101.7" cy="844.2" r="6.95"/>
<circle cx="101.7" cy="844.2" r="6.95"/>
<circle cx="101.8" cy="844.2" r="6.95"/>
<circle cx="101.8" cy="844.1" r="6.95"/>
<circle cx="101.8" cy="844.1" r="6.95"/>
<circle cx="101.9" cy="844.1" r="6.95"/>
<circle cx="101.9" cy="844.1" r="6.95"/>
<circle cx="101.9" cy="844.1" r="6.95"/>
<circle cx="101.9" cy="844.0" r="6.95"/>
<circle cx="102.0" cy="844.0" r="6.95"/>
<circle cx="102.0" cy="844.0" r="6.95"/>
<circle cx="102.0" cy="844.0" r="6.95"/>
<circle cx="102.1" cy="844.0" r="6.95"/>
<circle cx="102.1" cy="843.9" r="6.95"/>
<circle cx="101.5" cy="843.2" r="6.95"/>
<circle cx="101.5" cy="842.7" r="6.95"/>
<circle cx="101.5" cy="842.2" r="6.95"/>
<circle cx="101.5" cy="841.7" r="6.95"/>
<circle cx="101.5" cy="841.2" r="6.95"/>
<circle cx="101.5" cy="840.7" r="6.95"/>
<circle cx="101.5" cy="840.2" r="6.95"/>
<circle cx="101.5" cy="839.7" r="6.95"/>
</g>
<g clip-path="url(#ax)" stroke-width="4.17" stroke-linecap="square" fill="none">
<line x1="101.06" y1="837.1" x2="659.34" y2="269.0" stroke="#f00" stroke-opacity="0.34"/>
<line x1="62.5" y1="883.77" x2="847.5" y2="103.83" stroke="#00f" stroke-opacity="0.34"/>
</g>
<rect x="67.5" y="110.5" width="775.0" height="770.0" fill="none" stroke="#000" stroke-width="1.11"/>
<g stroke="#000" stroke-width="1.11">
<line x1="101.5" y1="881.0" x2="101.5" y2="885.5"/>
<line x1="67.0" y1="846.5" x2="62.5" y2="846.5"/>
<line x1="200.5" y1="881.0" x2="200.5" y2="885.5"/>
<line x1="67.0" y1="748.5" x2="62.5" y2="748.5"/>
<line x1="299.5" y1="881.0" x2="299.5" y2="885.5"/>
<line x1="67.0" y1="649.5" x2="62.5" y2="649.5"/>
<line x1="398.5" y1="881.0" x2="398.5" y2="885.5"/>
<line x1="67.0" y1="551.5" x2="62.5" y2="551.5"/>
<line x1="497.5" y1="881.0" x2="497.5" y2="885.5"/>
<line x1="67.0" y1="452.5" x2="62.5" y2="452.5"/>
<line x1="596.5" y1="881.0" x2="596.5" y2="885.5"/>
<line x1="67.0" y1="354.5" x2="62.5" y2="354.5"/>
<line x1="695.5" y1="881.0" x2="695.5" y2="885.5"/>
<line x1="67.0" y1="255.5" x2="62.5" y2="255.5"/>
<line x1="795.5" y1="881.0" x2="795.5" y2="885.5"/>
<line x1="67.0" y1="157.5" x2="62.5" y2="157.5"/>
</g>
<g opacity="0.999">
<text x="143.99" y="24.9" font-size="20.4px" textLength="37.77" lengthAdjust="spacingAndGlyphs">Q-Q</text>
<text x="188.04" y="24.9" font-size="20.4px" textLength="36.66" lengthAdjust="spacingAndGlyphs">plot</text>
<text x="231.47" y="24.9" font-size="20.4px" textLength="19.19" lengthAdjust="spacingAndGlyphs">at</text>
<text x="257.52" y="24.9" font-size="20.4px" textLength="184.38" lengthAdjust="spacingAndGlyphs">is.landsvirkjun.hoff</text>
<text x="448.66" y="24.9" font-size="20.4px" textLength="26.33" lengthAdjust="spacingAndGlyphs">for</text>
<text x="481.15" y="24.9" font-size="20.4px" textLength="257.60" lengthAdjust="spacingAndGlyphs">downward_shortwave_flux</text>
<text x="288.14" y="47.5" font-size="20.4px" textLength="44.68" lengthAdjust="spacingAndGlyphs">from</text>
<text x="340.47" y="47.5" font-size="20.4px" textLength="105.52" lengthAdjust="spacingAndGlyphs">rav2-15-16</text>
<text x="453.22" y="47.5" font-size="20.4px" textLength="61.74" lengthAdjust="spacingAndGlyphs">during</text>
<text x="521.28" y="47.5" font-size="20.4px" textLength="75.45" lengthAdjust="spacingAndGlyphs">autumn</text>
<text x="411.54" y="921.1" font-size="17.0px" textLength="84.15" lengthAdjust="spacingAndGlyphs">Simulated</text>
<text transform="translate(22.0,535.59) rotate(-90)" font-size="17.0px" textLength="78.89" lengthAdjust="spacingAndGlyphs">Observed</text>
<text x="97.76" y="900.8" font-size="14.1px" textLength="7.45" lengthAdjust="spacingAndGlyphs">0</text>
<text x="187.55" y="900.8" font-size="14.1px" textLength="24.74" lengthAdjust="spacingAndGlyphs">100</text>
<text x="285.82" y="900.8" font-size="14.1px" textLength="25.94" lengthAdjust="spacingAndGlyphs">200</text>
<text x="384.87" y="900.8" font-size="14.1px" textLength="25.39" lengthAdjust="spacingAndGlyphs">300</text>
<text x="485.14" y="900.8" font-size="14.1px" textLength="24.79" lengthAdjust="spacingAndGlyphs">400</text>
<text x="583.15" y="900.8" font-size="14.1px" textLength="24.94" lengthAdjust="spacingAndGlyphs">500</text>
<text x="681.71" y="900.8" font-size="14.1px" textLength="26.87" lengthAdjust="spacingAndGlyphs">600</text>
<text x="782.33" y="900.8" font-size="14.1px" textLength="24.94" lengthAdjust="spacingAndGlyphs">700</text>
<text x="31.93" y="162.2" font-size="14.1px" textLength="24.28" lengthAdjust="spacingAndGlyphs">700</text>
<text x="31.79" y="260.2" font-size="14.1px" textLength="25.17" lengthAdjust="spacingAndGlyphs">600</text>
<text x="31.68" y="359.2" font-size="14.1px" textLength="24.41" lengthAdjust="spacingAndGlyphs">500</text>
<text x="30.93" y="457.2" font-size="14.1px" textLength="25.28" lengthAdjust="spacingAndGlyphs">400</text>
<text x="31.98" y="556.2" font-size="14.1px" textLength="24.26" lengthAdjust="spacingAndGlyphs">300</text>
<text x="31.91" y="654.2" font-size="14.1px" textLength="25.07" lengthAdjust="spacingAndGlyphs">200</text>
<text x="31.55" y="753.2" font-size="14.1px" textLength="24.74" lengthAdjust="spacingAndGlyphs">100</text>
<text x="49.76" y="851.2" font-size="14.1px" textLength="7.45" lengthAdjust="spacingAndGlyphs">0</text>
</g>
</svg></body></html>
